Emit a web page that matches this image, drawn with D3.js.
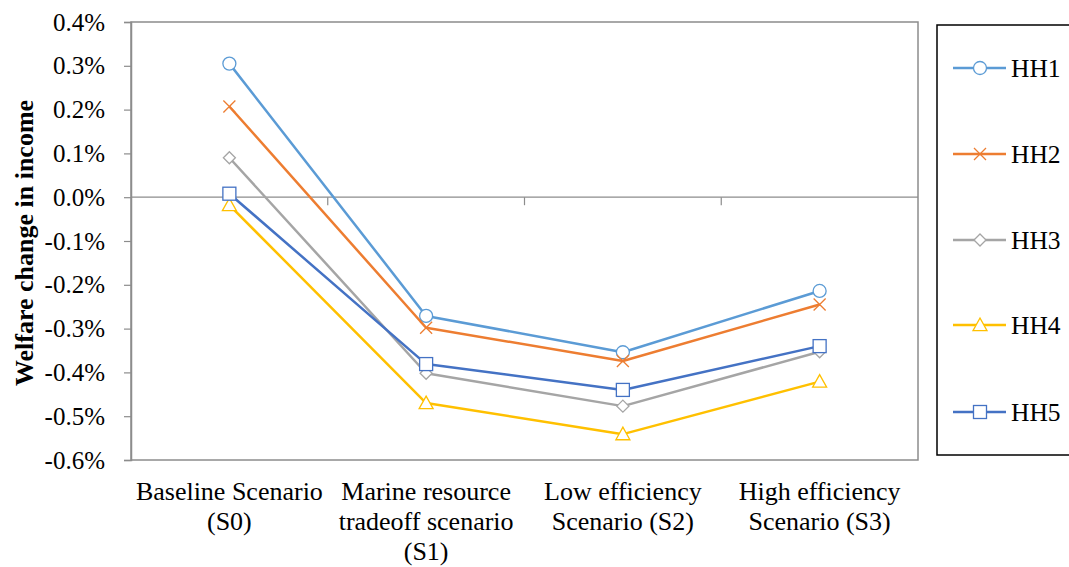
<!DOCTYPE html>
<html>
<head>
<meta charset="utf-8">
<script src="https://cdn.jsdelivr.net/npm/d3@7"></script>
<style>
  html, body { margin: 0; padding: 0; background: #fff; }
  svg { display: block; }
</style>
</head>
<body>
<svg id="chart" width="1069" height="567"></svg>
<script>
// Scenario categories (label lines)
const categories = ["S0", "S1", "S2", "S3"];
const categoryLabels = [
  ["Baseline Scenario", "(S0)"],
  ["Marine resource", "tradeoff scenario", "(S1)"],
  ["Low efficiency", "Scenario (S2)"],
  ["High efficiency", "Scenario (S3)"]
];

// Welfare change in income (%) per household group
const seriesNames = ["HH1", "HH2", "HH3", "HH4", "HH5"];
const hh1 = [0.305, -0.271, -0.354, -0.214];
const hh2 = [0.207, -0.298, -0.374, -0.245];
const hh3 = [0.090, -0.402, -0.477, -0.353];
const hh4 = [-0.018, -0.470, -0.541, -0.421];
const hh5 = [0.008, -0.381, -0.440, -0.340];

const yTicks = [0.4, 0.3, 0.2, 0.1, 0.0, -0.1, -0.2, -0.3, -0.4, -0.5, -0.6];

const seriesValues = [hh1, hh2, hh3, hh4, hh5];
const colors = ["#5B9BD5", "#ED7D31", "#A5A5A5", "#FFC000", "#4472C4"];
const markers = ["circle", "cross", "diamond", "triangle", "square"];

const FONT = "Liberation Serif, Times New Roman, serif";

const svg = d3.select("#chart").attr("font-family", FONT);
const plot = { left: 131, right: 918, top: 22, bottom: 460 };

const x = d3.scalePoint().domain(categories).range([plot.left, plot.right]).padding(0.5);
const y = d3.scaleLinear().domain([-0.6, 0.4]).range([plot.bottom, plot.top]);

const axisColor = "#8c8c8c";

// Plot frame
svg.append("rect")
  .attr("x", plot.left).attr("y", plot.top)
  .attr("width", plot.right - plot.left).attr("height", plot.bottom - plot.top)
  .attr("fill", "none").attr("stroke", axisColor).attr("stroke-width", 1.5);

// Y axis
const yAxis = d3.axisLeft(y).tickValues(yTicks).tickSize(7).tickPadding(19)
  .tickFormat(d => d3.format(".1f")(d).replace("\u2212", "-") + "%");
const gy = svg.append("g").attr("transform", `translate(${plot.left},0)`).call(yAxis);
gy.attr("font-family", FONT).attr("font-size", 25);
gy.select(".domain").attr("stroke", axisColor).attr("stroke-width", 1.5);
gy.selectAll(".tick line").attr("stroke", axisColor).attr("stroke-width", 1.2);
gy.selectAll(".tick text").attr("fill", "#000");

// Horizontal category axis at zero with tick marks between categories
const step = x.step();
const boundaries = d3.range(categories.length + 1).map(i => plot.left + i * step);
svg.append("line")
  .attr("x1", plot.left).attr("x2", plot.right)
  .attr("y1", y(0)).attr("y2", y(0))
  .attr("stroke", axisColor).attr("stroke-width", 1.2);
svg.selectAll(".cat-tick").data(boundaries.slice(1, -1)).enter().append("line")
  .attr("x1", d => d).attr("x2", d => d)
  .attr("y1", y(0)).attr("y2", y(0) + 8)
  .attr("stroke", axisColor).attr("stroke-width", 1.2);

// Category labels
const labelG = svg.append("g").attr("font-family", FONT).attr("font-size", 26);
categories.forEach((c, i) => {
  const t = labelG.append("text")
    .attr("x", x(c)).attr("y", 500)
    .attr("text-anchor", "middle");
  categoryLabels[i].forEach((line, j) => {
    t.append("tspan").attr("x", x(c)).attr("dy", j === 0 ? 0 : 30).text(line);
  });
});

// Y axis title
svg.append("text")
  .attr("transform", `translate(33,243) rotate(-90)`)
  .attr("text-anchor", "middle")
  .attr("font-family", FONT)
  .attr("font-size", 26).attr("font-weight", "bold")
  .text("Welfare change in income");

// Marker drawing
function drawMarker(g, type, cx, cy, color) {
  if (type === "circle") {
    g.append("circle").attr("cx", cx).attr("cy", cy).attr("r", 6.5)
      .attr("fill", "#fff").attr("stroke", color).attr("stroke-width", 1.3);
  } else if (type === "square") {
    g.append("rect").attr("x", cx - 6.5).attr("y", cy - 6.5).attr("width", 13).attr("height", 13)
      .attr("fill", "#fff").attr("stroke", color).attr("stroke-width", 1.3);
  } else if (type === "diamond") {
    const r = 6;
    g.append("path").attr("d", `M${cx},${cy - r}L${cx + r},${cy}L${cx},${cy + r}L${cx - r},${cy}Z`)
      .attr("fill", "#fff").attr("stroke", color).attr("stroke-width", 1.3);
  } else if (type === "triangle") {
    const r = 7;
    g.append("path").attr("d", `M${cx},${cy - r}L${cx + r},${cy + r * 0.8}L${cx - r},${cy + r * 0.8}Z`)
      .attr("fill", "#fff").attr("stroke", color).attr("stroke-width", 1.3);
  } else if (type === "cross") {
    const r = 6;
    g.append("path").attr("d", `M${cx - r},${cy - r}L${cx + r},${cy + r}M${cx - r},${cy + r}L${cx + r},${cy - r}`)
      .attr("fill", "none").attr("stroke", color).attr("stroke-width", 1.3);
  }
}

// Series lines and markers
const line = d3.line().x((d, i) => x(categories[i])).y(d => y(d));
seriesValues.forEach((vals, s) => {
  const g = svg.append("g");
  g.append("path").datum(vals).attr("d", line)
    .attr("fill", "none").attr("stroke", colors[s]).attr("stroke-width", 2.5)
    .attr("stroke-linejoin", "round");
  vals.forEach((v, i) => drawMarker(g, markers[s], x(categories[i]), y(v), colors[s]));
});

// Legend
const legend = svg.append("g").attr("font-family", FONT).attr("font-size", 25.5);
legend.append("rect")
  .attr("x", 937).attr("y", 25).attr("width", 150).attr("height", 430)
  .attr("fill", "#fff").attr("stroke", "#000").attr("stroke-width", 1.5);
const legendY = [68, 154, 240, 325, 412];
seriesNames.forEach((name, s) => {
  const ly = legendY[s];
  legend.append("line").attr("x1", 953).attr("x2", 1006).attr("y1", ly).attr("y2", ly)
    .attr("stroke", colors[s]).attr("stroke-width", 2.5);
  drawMarker(legend, markers[s], 980, ly, colors[s]);
  legend.append("text").attr("x", 1011).attr("y", ly + 9).text(name);
});
</script>
</body>
</html>
